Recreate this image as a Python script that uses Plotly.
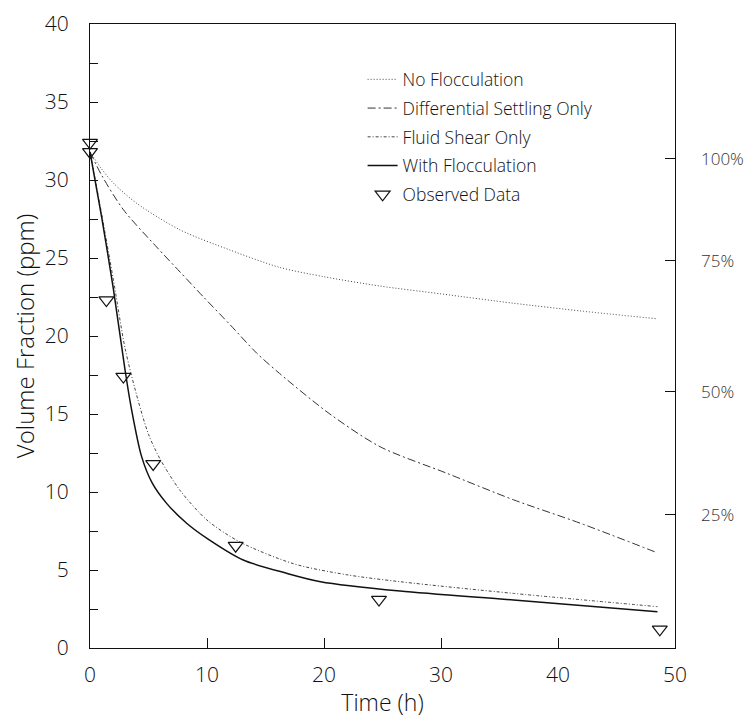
import plotly.graph_objects as go

# ---- data ----
t_noflocc = [0, 1, 2, 4, 7.7, 12, 16.2, 20, 24.8, 30, 36.2, 42, 48.5]
v_noflocc = [31.8, 30.7, 29.8, 28.5, 26.8, 25.5, 24.4, 23.8, 23.2, 22.7, 22.1, 21.6, 21.1]

t_diff = [0, 1, 2.85, 5.7, 7.7, 9.7, 12, 14.25, 16.2, 20.5, 24.8, 30.5, 36.2, 41.9, 48.5]
v_diff = [31.8, 30.3, 28.1, 25.7, 24.1, 22.5, 20.7, 18.9, 17.6, 15.0, 12.9, 11.2, 9.5, 8.0, 6.1]

t_shear = [0, 1, 2, 3, 4.1, 5.0, 6.0, 7.7, 10.0, 12.8, 17.4, 21.9, 26.5, 36.2, 48.5]
v_shear = [31.8, 27.8, 23.6, 19.2, 15.9, 13.7, 12.1, 10.1, 8.2, 6.8, 5.4, 4.7, 4.25, 3.5, 2.65]

t_floc = [0, 1, 2, 3, 3.5, 4.4, 5.3, 6.55, 8.26, 10.0, 13.1, 16.8, 19.7, 26.5, 36.2, 48.5]
v_floc = [31.8, 27.6, 23.0, 17.8, 15.5, 12.3, 10.6, 9.27, 8.0, 7.03, 5.64, 4.79, 4.25, 3.65, 3.08, 2.33]

t_obs = [0, 0, 1.4, 2.85, 5.4, 12.45, 24.7, 48.7]
v_obs = [32.4, 31.8, 22.3, 17.4, 11.8, 6.56, 3.1, 1.2]

x_ticks = [0, 10, 20, 30, 40, 50]
y_ticks = [0, 5, 10, 15, 20, 25, 30, 35, 40]
pct_vals = [31.35, 24.85, 16.45, 8.55]
pct_text = ["100%", "75%", "50%", "25%"]

FONT = "Open Sans"
W = 300
INK = "#111"
fig = go.Figure()

fig.add_trace(go.Scatter(x=t_noflocc, y=v_noflocc, mode="lines", name="No Flocculation",
                         line=dict(color="#444", width=1, dash="1px,2px", shape="spline", smoothing=0.8),
                         legendgroup="a"))
fig.add_trace(go.Scatter(x=t_diff, y=v_diff, mode="lines", name="Differential Settling Only",
                         line=dict(color="#333", width=1, dash="8px,3px,2px,3px", shape="spline", smoothing=0.8),
                         legendgroup="b"))
fig.add_trace(go.Scatter(x=t_shear, y=v_shear, mode="lines", name="Fluid Shear Only",
                         line=dict(color="#444", width=1, dash="3px,2px,1px,2px", shape="spline", smoothing=0.8),
                         legendgroup="c"))
fig.add_trace(go.Scatter(x=t_floc, y=v_floc, mode="lines", name="With Flocculation",
                         line=dict(color="#111", width=1.5, shape="spline", smoothing=0.8),
                         legendgroup="d"))
fig.add_trace(go.Scatter(x=t_obs, y=v_obs, mode="markers", name="Observed Data",
                         marker=dict(symbol="triangle-down-open", size=13, color="#111",
                                     line=dict(width=1.2, color="#111")),
                         cliponaxis=False, legendgroup="e"))
# invisible trace to carry the right-hand axis
fig.add_trace(go.Scatter(x=[None], y=[None], yaxis="y2", showlegend=False, hoverinfo="skip"))

tick_font = dict(family=FONT, size=21, color=INK, weight=W)

# right-hand percentage labels
for v, txt in zip(pct_vals, pct_text):
    fig.add_annotation(x=1, xref="paper", y=v, yref="y", text=txt, showarrow=False,
                       xanchor="left", xshift=24, align="left",
                       font=dict(family=FONT, size=17, color="#333", weight=W))

fig.update_layout(
    width=740, height=710,
    margin=dict(l=82, r=73, t=16, b=70),
    paper_bgcolor="white", plot_bgcolor="white",
    font=dict(family=FONT, size=16, color=INK, weight=W),
    showlegend=True,
    legend=dict(x=0.466, y=0.940, xanchor="left", yanchor="top",
                bgcolor="rgba(0,0,0,0)", font=dict(family=FONT, size=17.5, color=INK, weight=W),
                tracegroupgap=3, itemwidth=30),
    xaxis=dict(range=[0, 50], tickvals=x_ticks, ticks="inside", ticklen=10, tickwidth=1,
               tickcolor="#111", showline=True, linecolor="#111", linewidth=1.2, mirror=True,
               showgrid=False, zeroline=False, tickfont=tick_font, ticklabelstandoff=8,
               automargin=False,
               title=dict(text="Time (h)", font=dict(family=FONT, size=23, color=INK, weight=W),
                          standoff=15)),
    yaxis=dict(range=[0, 40], tickvals=y_ticks, ticks="inside", ticklen=8, tickwidth=1,
               tickcolor="#111", showline=True, linecolor="#111", linewidth=1.2, mirror=True,
               showgrid=False, zeroline=False, tickfont=tick_font, ticklabelstandoff=16,
               automargin=False,
               minor=dict(dtick=2.5, ticks="inside", ticklen=8, tickcolor="#111", showgrid=False),
               title=dict(text="Volume Fraction (ppm)",
                          font=dict(family=FONT, size=24, color=INK, weight=W), standoff=31)),
    yaxis2=dict(range=[0, 40], overlaying="y", side="right", tickvals=pct_vals,
                showticklabels=False,
                ticks="inside", ticklen=10, tickwidth=1, tickcolor="#111", showline=True,
                linecolor="#111", linewidth=1.2, showgrid=False, zeroline=False, automargin=False),
)

fig.write_html("out.html")
